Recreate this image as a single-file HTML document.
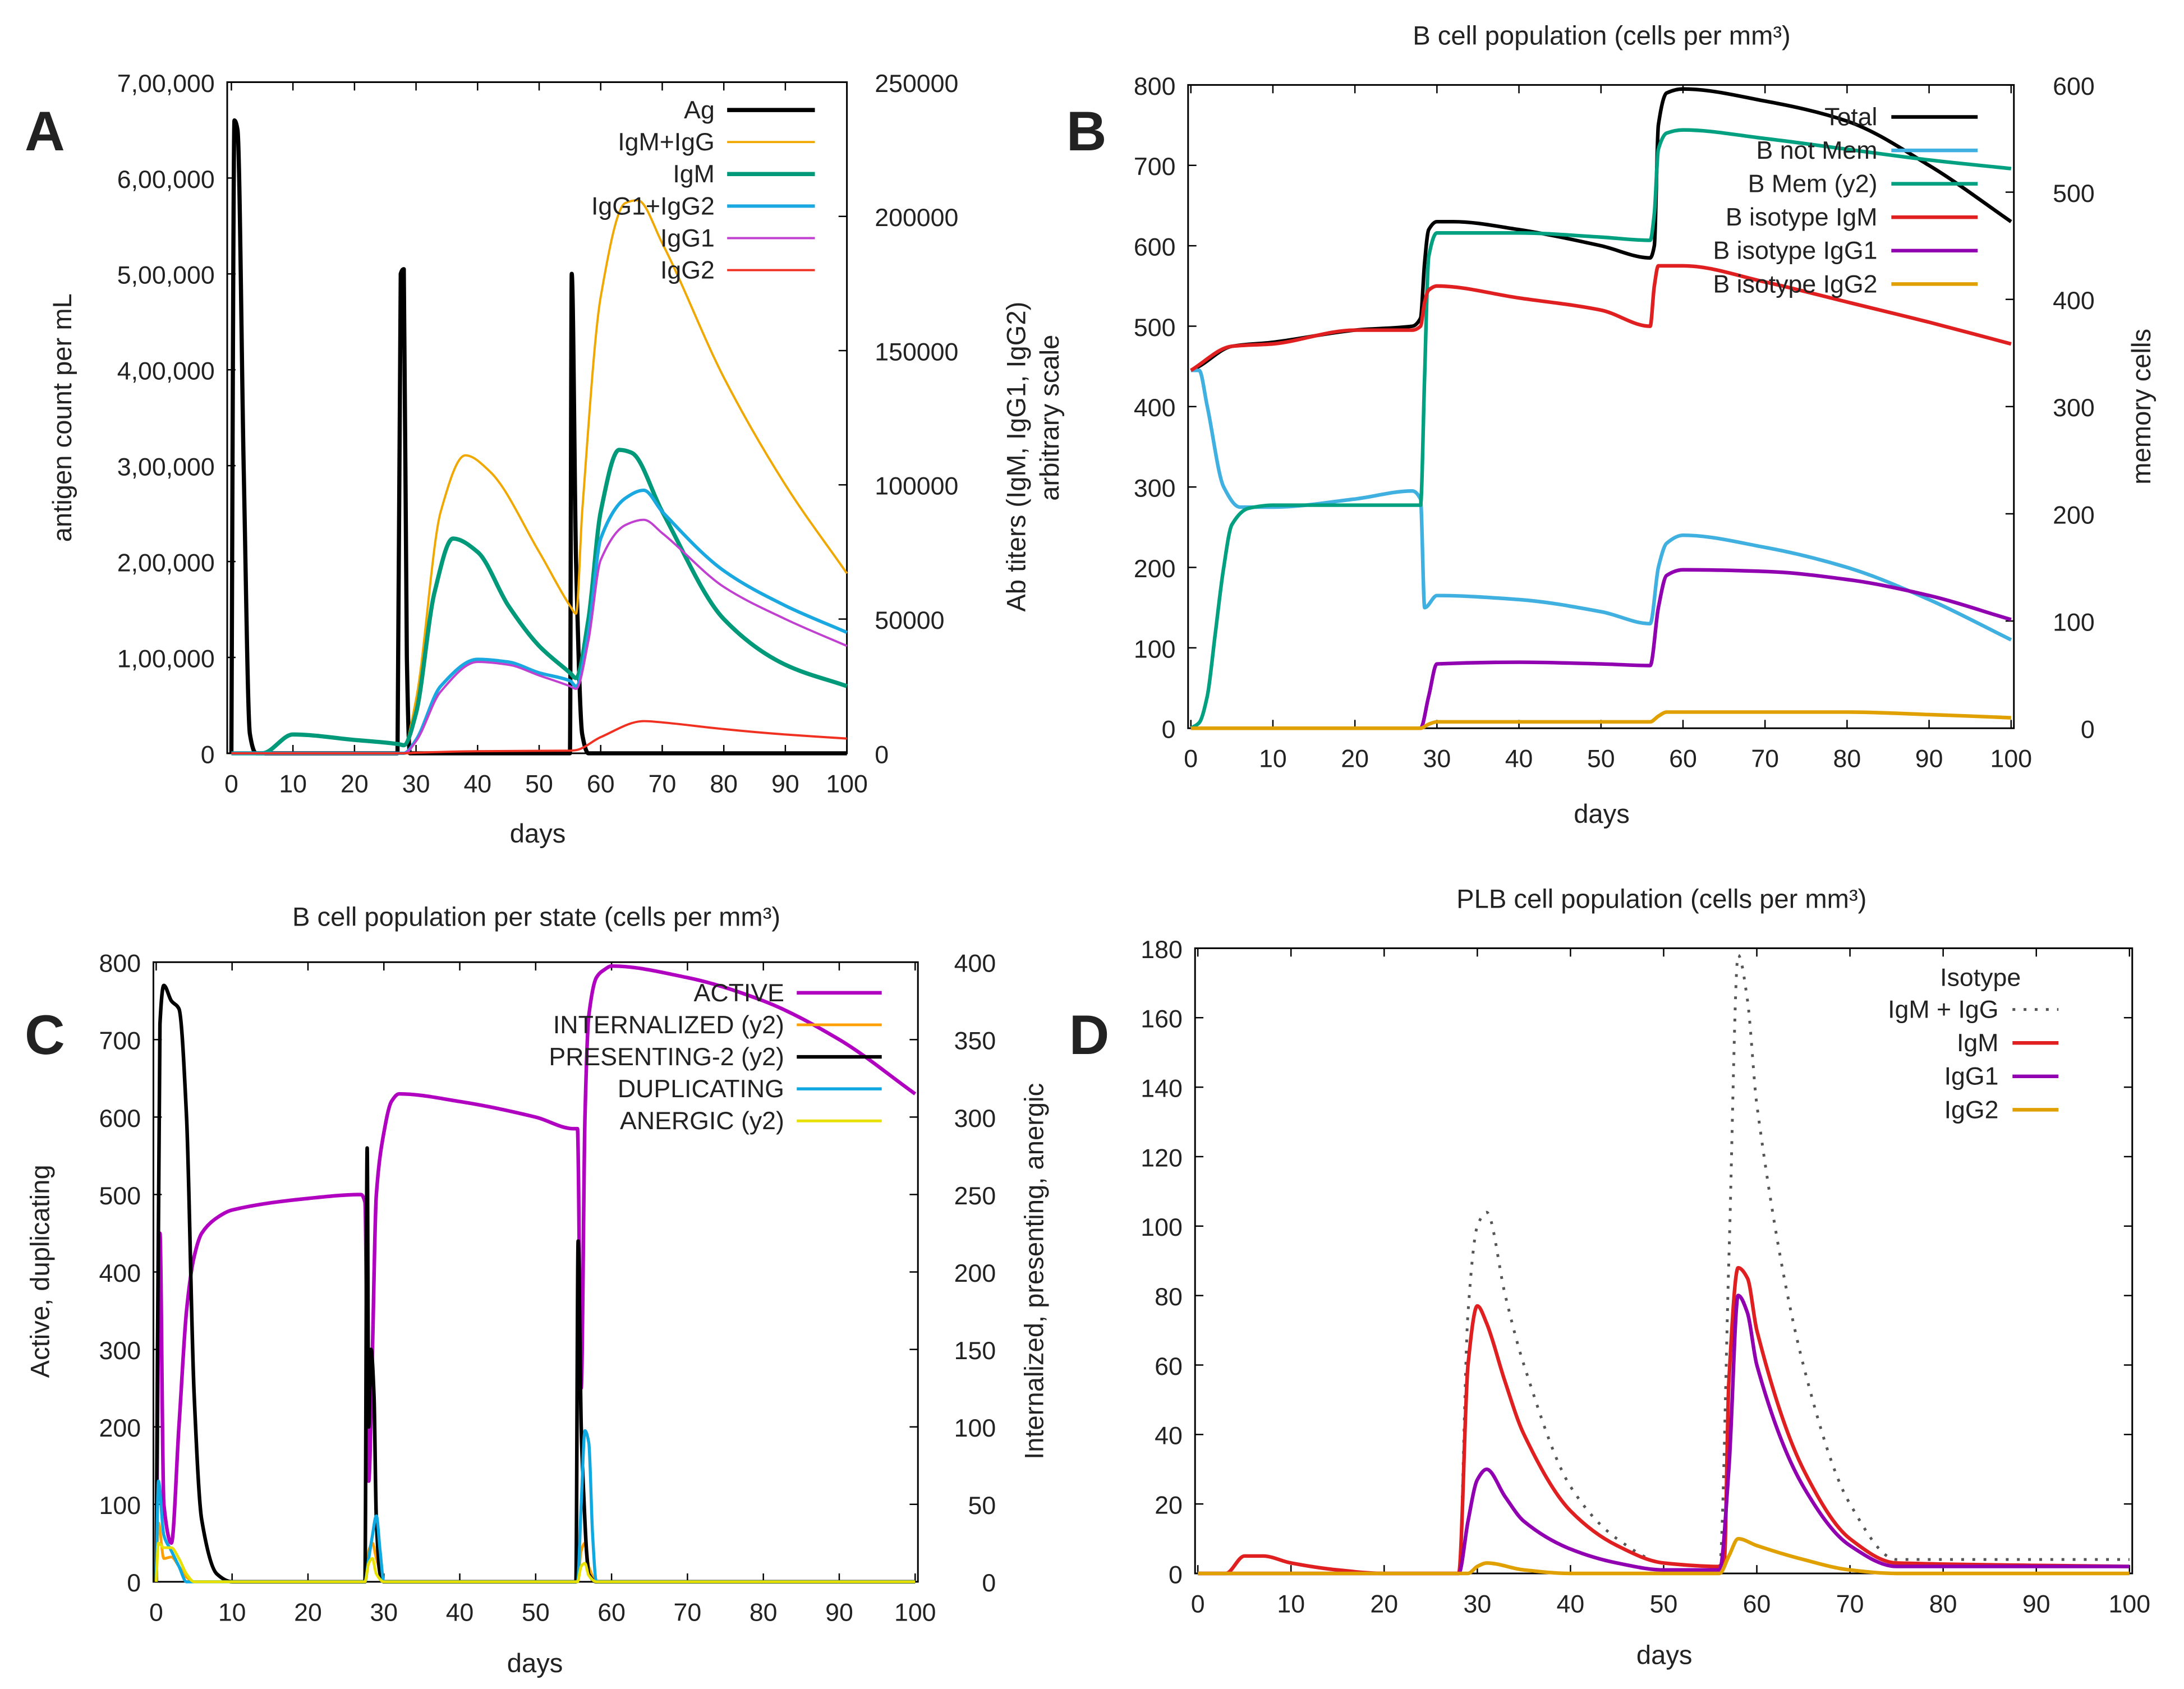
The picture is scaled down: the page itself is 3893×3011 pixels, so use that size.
<!DOCTYPE html>
<html><head><meta charset="utf-8"><style>
html,body{margin:0;padding:0;background:#fff;}
svg{display:block;}
text{font-family:"Liberation Sans",sans-serif;fill:#222;}
</style></head><body>
<svg id="fig" width="3893" height="3011" viewBox="0 0 1568 1213" xmlns="http://www.w3.org/2000/svg">
<rect width="1568" height="1213" fill="#fff"/>
</svg>
<script>
// ---------- Panel A data ----------
const aDaysAg=[0,0.5,1,2,3,4,27,27.5,28,28.5,29,55,55.3,56,57,58,100];
const aAg=[0,660000,650000,300000,20000,0,0,500000,505000,100000,0,0,500000,200000,20000,0,0];
const aDaysSum=[0,5,10,20,27,28,30,34,38,42,50,55,56,57,60,64,66,70,80,90,100];
const aSum=[0,0,7000,5000,3500,3000,20000,90000,111000,105000,75000,55000,52000,90000,170000,205000,206000,190000,140000,100000,67000];
const aDaysIgM=[0,5,10,20,27,28,30,33,36,40,45,50,55,56,58,60,63,65,70,80,90,100];
const aIgM=[0,0,7000,5000,3500,3000,15000,60000,80000,75000,55000,40000,30000,28000,50000,90000,113000,112000,90000,50000,33000,25000];
const aDaysG=[0,27,28,30,34,40,45,50,55,56,58,60,64,67,70,80,90,100];
const aIgG12=[0,0,0,5000,25000,35000,34000,30000,27000,25000,45000,80000,95000,98000,90000,68000,55000,45000];
const aIgG1=[0,0,0,4500,23000,34000,33000,29000,25000,24000,42000,72000,85000,87000,82000,62000,50000,40000];
const aDaysG2=[0,28,30,40,55,56,60,67,70,80,90,100];
const aIgG2=[0,0,200,800,1000,1200,6000,12000,11500,9000,7000,5500];
const aLeftTicks=["0","1,00,000","2,00,000","3,00,000","4,00,000","5,00,000","6,00,000","7,00,000"];
const aRightTicks=["0","50000","100000","150000","200000","250000"];
// ---------- Panel B data ----------
const bDaysTot=[0,1,5,10,20,27,28,28.5,29,30,32,40,50,56,56.5,57,58,60,70,80,90,100];
const bTot=[445,450,475,480,495,500,510,580,620,630,630,620,600,585,600,750,790,795,780,755,700,630];
const bDaysNM=[0,1,2,4,6,10,20,27,28,28.5,30,40,50,56,57,58,60,70,80,90,100];
const bNM=[445,445,400,300,275,275,285,295,285,150,165,160,145,130,200,230,240,225,200,160,110];
const bDaysMem=[0,1,2,3,4,5,7,10,28,28.5,29,30,40,50,56,56.5,57,58,60,70,80,90,100];
const bMem=[0,5,30,90,150,190,205,208,208,330,440,462,462,458,455,480,540,555,558,550,540,530,522];
const bDaysIgM=[0,5,10,20,27,28,28.5,29,30,40,50,56,56.5,57,60,70,80,90,100];
const bIgM=[445,475,478,495,495,500,530,545,550,535,520,500,550,575,575,555,530,505,478];
const bDaysG1=[0,28,29,30,40,50,56,57,58,60,70,80,90,100];
const bIgG1=[0,0,40,80,82,80,78,150,190,197,195,185,165,135];
const bDaysG2=[0,28,29,30,56,57,58,80,90,100];
const bIgG2=[0,0,5,8,8,15,20,20,17,13];
const bLeftTicks=["0","100","200","300","400","500","600","700","800"];
const bRightTicks=["0","100","200","300","400","500","600"];
// ---------- Panel C data ----------
const cDaysAct=[0,0.5,1,2,3,4,5,6,8,10,20,27,27.5,28,28.5,29,30,31,32,40,50,55,55.5,56,56.5,57,58,59,60,70,80,90,100];
const cAct=[0,450,100,50,200,350,420,450,470,480,495,500,490,130,300,500,580,620,630,620,600,585,585,250,600,730,780,790,795,780,750,700,630];
const cDaysDup=[0,0.3,1,2,3,4,27.5,28,28.5,29,29.5,30,55.5,56,56.5,57,57.5,58,100];
const cDup=[0,130,60,40,20,0,0,30,60,85,40,0,0,100,195,180,60,0,0];
const cDaysPres=[0,0.5,1,2,3,4,5,6,8,10,27.5,27.8,28,28.3,28.7,29,29.5,30,55.3,55.6,56,56.3,56.7,57,58,100];
const cPres=[0,360,385,375,370,300,120,40,5,0,0,280,100,150,120,40,5,0,0,220,100,60,20,5,0,0];
const cDaysSm=[0,0.3,1,2,3,4,5,27.5,28,28.5,29,30,55.5,56,56.5,57,58,100];
const cInt=[0,38,15,16,10,3,0,0,20,25,15,0,0,20,25,10,0,0];
const cAne=[0,25,22,22,15,5,0,0,12,15,5,0,0,10,12,4,0,0];
const cLeftTicks=["0","100","200","300","400","500","600","700","800"];
const cRightTicks=["0","50","100","150","200","250","300","350","400"];
// ---------- Panel D data ----------
const dDaysIgM=[0,3,5,7,10,15,20,27.5,28,29,30,31,33,35,40,45,50,56,56.5,57,58,59,60,65,70,75,100];
const dIgM=[0,0,5,5,3,1,0,0,0,60,77,72,55,40,18,8,3,2,3,55,88,85,70,30,10,3,2];
const dDaysG1=[0,28,29,30,31,33,35,40,45,50,56,57,58,59,60,65,70,75,100];
const dIgG1=[0,0,15,27,30,22,15,7,3,1,1,30,80,75,60,25,8,2,2];
const dDaysG2=[0,29,30,31,35,40,56,57,58,60,65,70,75,100];
const dIgG2=[0,0,2,3,1,0,0,5,10,8,4,1,0,0];
const dDaysSum=[0,3,5,7,10,15,20,28,29,30,31,33,35,40,45,50,56,57,58,59,60,65,70,75,100];
const dSum=[0,0,5,5,3,1,0,0,75,100,104,80,60,25,10,3,2,90,178,165,135,60,20,4,4];
const dTicks=["0","20","40","60","80","100","120","140","160","180"];
const xTicks=["0","10","20","30","40","50","60","70","80","90","100"];

const NS="http://www.w3.org/2000/svg";
const svg=document.getElementById('fig');
function mk(tag,attrs,parent){const e=document.createElementNS(NS,tag);for(const k in attrs)e.setAttribute(k,attrs[k]);(parent||svg).appendChild(e);return e;}
function txt(s,x,y,size,anchor,parent,rot){const t=mk('text',{x:x,y:y,'font-size':size,'text-anchor':anchor||'middle'},parent);if(rot)t.setAttribute('transform','rotate(-90 '+x+' '+y+')');t.textContent=s;return t;}

// monotone cubic path (no overshoot)
function monoPath(xs,ys){
  const n=xs.length;if(n<2)return '';
  const d=[],m=new Array(n);
  for(let i=0;i<n-1;i++)d.push((ys[i+1]-ys[i])/(xs[i+1]-xs[i]));
  m[0]=d[0];m[n-1]=d[n-2];
  for(let i=1;i<n-1;i++){ if(d[i-1]*d[i]<=0)m[i]=0; else m[i]=2/(1/d[i-1]+1/d[i]); }
  let p='M'+xs[0].toFixed(1)+','+ys[0].toFixed(1);
  for(let i=0;i<n-1;i++){const h=xs[i+1]-xs[i];
    p+=' C'+(xs[i]+h/3).toFixed(1)+','+(ys[i]+m[i]*h/3).toFixed(1)+' '+(xs[i+1]-h/3).toFixed(1)+','+(ys[i+1]-m[i+1]*h/3).toFixed(1)+' '+xs[i+1].toFixed(1)+','+ys[i+1].toFixed(1);}
  return p;
}

function panel(p){
  const g=mk('g',{});
  
  
  const X=d=>p.x0+(p.x1-p.x0)*d/100;
  const YL=v=>p.yb-(p.yb-p.yt)*v/p.lmax;
  const YR=v=>p.yb-(p.yb-p.yt)*v/p.rmax;
  const box=mk('rect',{x:p.bx0,y:p.yt,width:p.bx1-p.bx0,height:p.yb-p.yt,fill:'none',stroke:'#000','stroke-width':1.2},g);
  
  
  xTicks.forEach((s,i)=>{const x=X(i*10);
    mk('line',{x1:x,x2:x,y1:p.yb,y2:p.yb-6,stroke:'#000'},g);
    mk('line',{x1:x,x2:x,y1:p.yt,y2:p.yt+6,stroke:'#000'},g);
    const t=txt(s,x,p.yb+28,18,'middle',g);
    
    });
  p.lt.forEach((s,i)=>{const y=p.yb-(p.yb-p.yt)*i/(p.lt.length-1);
    mk('line',{x1:p.bx0,x2:p.bx0+6,y1:y,y2:y,stroke:'#000'},g);
    if(!p.rt)mk('line',{x1:p.bx1,x2:p.bx1-6,y1:y,y2:y,stroke:'#000'},g);
    const t=txt(s,p.bx0-9,y+7,18,'end',g);
    
    });
  if(p.rt)p.rt.forEach((s,i)=>{const y=p.yb-(p.yb-p.yt)*i/(p.rt.length-1);
    mk('line',{x1:p.bx1,x2:p.bx1-6,y1:y,y2:y,stroke:'#000'},g);
    const t=txt(s,p.bx1+p.rtOff,y+7,18,p.rtAnchor||'start',g);
    
    });
  p.series.forEach(s=>{
    const Y=s.right?YR:YL;
    const xs=s.d.map(X), ys=s.v.map(Y);
    const pl=mk('path',{d:monoPath(xs,ys),fill:'none',stroke:s.c,'stroke-width':s.w||2,'stroke-linejoin':'round'},g);
    if(s.dash)pl.setAttribute('stroke-dasharray',s.dash);
    
    
  });
  p.series.forEach((s,i)=>{
    const y=p.lgY+i*p.lgDy;
    const t=txt(s.label,p.lgTx,y+6,18,'end',g);
    
    
    const l=mk('line',{x1:p.lgL0,x2:p.lgL1,y1:y,y2:y,stroke:s.c,'stroke-width':s.w||2},g);
    if(s.dash)l.setAttribute('stroke-dasharray',s.dash);
    
    
  });
  return g;
}

panel({name:'panel-a',x0:166,x1:608,bx0:163,bx1:608,yt:59,yb:541,lmax:700000,rmax:250000,lt:aLeftTicks,rt:aRightTicks,rtOff:20,
 lgY:79,lgDy:23,lgTx:513,lgL0:522,lgL1:585,
 series:[
  {id:'ag',label:'Ag',d:aDaysAg,v:aAg,c:'#000',w:3},
  {id:'igm-igg',label:'IgM+IgG',d:aDaysSum,v:aSum,c:'#f0a800',w:1.6,right:true},
  {id:'igm',label:'IgM',d:aDaysIgM,v:aIgM,c:'#00997a',w:3,right:true},
  {id:'igg1-igg2',label:'IgG1+IgG2',d:aDaysG,v:aIgG12,c:'#1aa8e0',w:2.4,right:true},
  {id:'igg1',label:'IgG1',d:aDaysG,v:aIgG1,c:'#c040d0',w:1.6,right:true},
  {id:'igg2',label:'IgG2',d:aDaysG2,v:aIgG2,c:'#f03020',w:1.6,right:true}]});

panel({name:'panel-b',x0:855,x1:1444,bx0:853,bx1:1446,yt:61,yb:523,lmax:800,rmax:600,lt:bLeftTicks,rt:bRightTicks,rtOff:58,rtAnchor:'end',
 lgY:84,lgDy:24,lgTx:1348,lgL0:1358,lgL1:1420,
 series:[
  {id:'total',label:'Total',d:bDaysTot,v:bTot,c:'#000',w:2.6},
  {id:'b-not-mem',label:'B not Mem',d:bDaysNM,v:bNM,c:'#40b0e0',w:2.6},
  {id:'b-mem',label:'B Mem (y2)',d:bDaysMem,v:bMem,c:'#00a080',w:2.6,right:true},
  {id:'b-igm',label:'B isotype IgM',d:bDaysIgM,v:bIgM,c:'#e02020',w:2.6},
  {id:'b-igg1',label:'B isotype IgG1',d:bDaysG1,v:bIgG1,c:'#9000b0',w:2.6},
  {id:'b-igg2',label:'B isotype IgG2',d:bDaysG2,v:bIgG2,c:'#e0a000',w:2.6}]});

panel({name:'panel-c',x0:112,x1:657,bx0:110,bx1:659,yt:691,yb:1136,lmax:800,rmax:400,lt:cLeftTicks,rt:cRightTicks,rtOff:56,rtAnchor:'end',
 lgY:713,lgDy:23,lgTx:563,lgL0:572,lgL1:633,
 series:[
  {id:'active',label:'ACTIVE',d:cDaysAct,v:cAct,c:'#b000c0',w:2.6},
  {id:'internalized',label:'INTERNALIZED (y2)',d:cDaysSm,v:cInt,c:'#ffa000',w:2,right:true},
  {id:'presenting',label:'PRESENTING-2 (y2)',d:cDaysPres,v:cPres,c:'#000',w:2.6,right:true},
  {id:'duplicating',label:'DUPLICATING',d:cDaysDup,v:cDup,c:'#10a8e0',w:2.2},
  {id:'anergic',label:'ANERGIC (y2)',d:cDaysSm,v:cAne,c:'#e8e000',w:2,right:true}]});

panel({name:'panel-d',x0:860,x1:1529,bx0:858,bx1:1531,yt:681,yb:1130,lmax:180,rmax:180,lt:dTicks,rt:null,
 lgY:725,lgDy:24,lgTx:1435,lgL0:1445,lgL1:1478,
 series:[
  {id:'igm-plus-igg',label:'IgM + IgG',d:dDaysSum,v:dSum,c:'#555',w:2,dash:'2,6'},
  {id:'plb-igm',label:'IgM',d:dDaysIgM,v:dIgM,c:'#e02020',w:2.6},
  {id:'plb-igg1',label:'IgG1',d:dDaysG1,v:dIgG1,c:'#9000b0',w:2.6},
  {id:'plb-igg2',label:'IgG2',d:dDaysG2,v:dIgG2,c:'#e0a000',w:2.6}]});

function label(s,x,y,size,name,rot,bold){const t=txt(s,x,y,size,'middle',svg,rot);if(bold)t.setAttribute('font-weight','bold');
  
  return t;}
label('A',32,108,40,'panel-letter-a',false,true);
label('B',780,108,40,'panel-letter-b',false,true);
label('C',32,757,40,'panel-letter-c',false,true);
label('D',782,757,40,'panel-letter-d',false,true);
label('Isotype',1422,708,18,'legend-title');
label('days',386,605,19,'x-axis-title-a');
label('days',1150,591,19,'x-axis-title-b');
label('days',384,1201,19,'x-axis-title-c');
label('days',1195,1195,19,'x-axis-title-d');
label('antigen count per mL',51,300,19,'y-axis-title-a',true);
label('Ab titers (IgM, IgG1, IgG2)',736,328,19,'y2-axis-title-a',true);
label('arbitrary scale',760,300,19,'y2-axis-title-a2',true);
label('memory cells',1544,292,19,'y2-axis-title-b',true);
label('Active, duplicating',35,913,19,'y-axis-title-c',true);
label('Internalized, presenting, anergic',749,913,19,'y2-axis-title-c',true);
label('B cell population (cells per mm³)',1150,32,19,'title-b');
label('B cell population  per state (cells per mm³)',385,665,19,'title-c');
label('PLB cell population (cells per mm³)',1193,652,19,'title-d');
</script>
</body></html>
